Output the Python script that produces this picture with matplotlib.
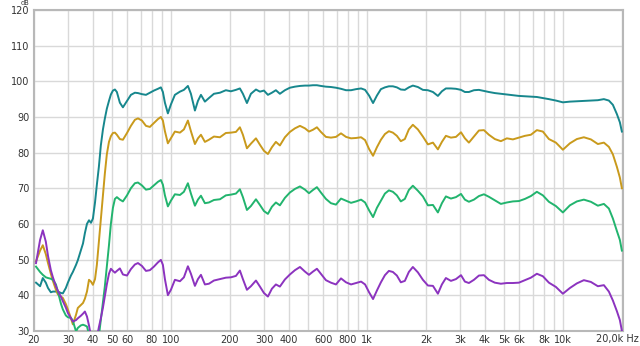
import numpy as np
import matplotlib
matplotlib.use("Agg")
from matplotlib import pyplot as plt

# frequency grid (Hz), shared by all four curves
freq = [20.5, 21.5, 22.2, 23.0, 23.6, 24.4, 25.0, 25.9, 26.5, 27.5,
        28.1, 29.1, 29.8, 30.9, 31.6, 32.8, 33.5, 34.7, 35.6, 36.4,
        37.3, 38.2, 39.1, 40.0, 41.0, 41.9, 42.9, 43.9, 45.0, 46.0,
        47.1, 48.3, 49.4, 50.6, 51.8, 53.0, 54.9, 56.9, 59.7, 62.5,
        65.5, 67.9, 71.1, 74.6, 78.1, 81.9, 85.9, 88.9, 91.0, 93.2,
        96.5, 100.0, 104.8, 111.2, 116.5, 122.1, 126.5, 132.6, 137.4, 142.3,
        149.1, 156.3, 165.8, 177.9, 190.7, 202.4, 214.7, 224.9, 233.0, 244.3,
        256.0, 271.6, 284.6, 298.3, 312.6, 327.6, 343.3, 359.8, 381.7, 404.8,
        429.4, 455.5, 483.2, 506.3, 530.5, 555.9, 582.5, 617.9, 655.4, 695.3,
        737.6, 782.5, 830.0, 880.6, 934.1, 978.9, 1026, 1075, 1125, 1179,
        1236, 1295, 1357, 1422, 1490, 1562, 1637, 1716, 1820, 1931,
        2048, 2173, 2303, 2414, 2530, 2684, 2847, 3021, 3163, 3315,
        3517, 3730, 3955, 4193, 4495, 4826, 5178, 5559, 5966, 6402,
        6866, 7367, 7904, 8485, 9213, 10001, 10859, 11788, 12796, 13898,
        15084, 16188, 17168, 17995, 18862, 19534, 20000]

teal = [43.5, 42.5, 44.8, 43.5, 42.0, 40.8, 41.0, 41.0, 41.0, 40.6,
        40.5, 42.0, 43.5, 45.5, 46.5, 48.5, 49.8, 52.5, 54.5, 57.4,
        60.0, 61.0, 60.3, 61.5, 66.0, 71.0, 76.0, 82.0, 86.5, 89.5,
        92.3, 94.5, 96.3, 97.4, 97.7, 97.0, 94.0, 92.7, 94.5, 96.2,
        96.8, 96.7, 96.4, 96.2, 96.8, 97.4, 97.9, 98.3, 97.0, 94.0,
        91.0, 93.5, 96.2, 97.1, 97.6, 98.7, 96.5, 91.8, 94.5, 96.2,
        94.3, 95.3, 96.5, 96.8, 97.5, 97.2, 97.6, 98.0, 96.5, 93.9,
        96.5, 97.7, 97.1, 97.4, 96.2, 96.8, 97.5, 96.5, 97.5, 98.2,
        98.5, 98.7, 98.8, 98.8, 98.9, 98.9, 98.7, 98.5, 98.4, 98.2,
        97.9, 97.5, 97.5, 97.8, 98.0, 97.6, 96.0, 93.9, 96.0, 97.8,
        98.3, 98.6, 98.6, 98.3, 97.7, 97.6, 98.3, 98.8, 98.4, 97.6,
        97.5, 97.0, 95.9, 97.2, 98.0, 98.0, 97.9, 97.6, 97.0, 97.0,
        97.5, 97.6, 97.3, 97.0, 96.7, 96.5, 96.3, 96.1, 95.9, 95.8,
        95.7, 95.6, 95.3, 95.0, 94.6, 94.1, 94.3, 94.4, 94.5, 94.6,
        94.7, 95.0, 94.6, 93.4, 90.8, 88.5, 85.9]

gold = [49.5, 52.5, 54.0, 51.5, 49.0, 46.0, 44.0, 41.5, 40.2, 39.6,
        39.2, 37.5, 36.0, 33.5, 31.8, 34.5, 36.4, 37.2, 37.8, 39.0,
        41.0, 44.3, 43.8, 42.9, 44.5, 48.5, 55.0, 61.5, 68.0, 74.0,
        79.5, 83.0, 84.6, 85.5, 85.6, 85.0, 83.8, 83.6, 85.5, 87.5,
        89.2, 89.6, 89.0, 87.5, 87.2, 88.3, 89.4, 90.0, 89.0, 86.0,
        82.6, 84.0, 85.9, 85.6, 86.5, 89.0, 86.0, 82.4, 84.0, 85.0,
        83.0, 83.6, 84.5, 84.3, 85.5, 85.6, 85.8, 87.1, 85.0, 81.2,
        82.5, 84.0, 82.2, 80.5, 79.6, 81.5, 83.0, 82.0, 84.3, 85.8,
        86.8, 87.5, 86.8, 85.9, 86.4, 87.1, 85.8, 84.4, 84.2, 84.4,
        85.4, 84.4, 84.0, 84.1, 84.3, 83.5, 81.0, 79.1, 81.5, 83.6,
        85.2, 86.0, 85.6, 84.7, 83.2, 83.8, 86.5, 87.8, 86.5, 84.5,
        82.3, 82.8, 80.9, 83.0, 84.7, 84.2, 84.4, 85.7, 84.0, 82.8,
        84.5, 86.2, 86.3, 85.0, 83.8, 83.2, 84.0, 83.7, 84.2, 84.7,
        85.0, 86.3, 85.9, 83.8, 82.8, 80.8, 82.6, 83.8, 84.3, 83.7,
        82.4, 82.8, 81.6, 79.5, 76.0, 73.0, 70.0]

green = [48.0, 46.5, 45.7, 45.0, 44.8, 44.6, 44.3, 43.0, 41.0, 37.5,
         36.0, 34.3, 33.8, 33.6, 32.8, 29.8, 30.8, 31.5, 31.7, 31.5,
         31.2, 29.0, 27.0, 26.0, 25.5, 26.0, 28.5, 33.0, 38.0, 42.4,
         48.0, 54.0, 60.0, 64.5, 67.0, 67.5, 66.8, 66.3, 68.0, 70.0,
         71.4, 71.6, 70.8, 69.6, 69.8, 70.8, 71.8, 72.3, 71.0, 68.0,
         64.9, 66.5, 68.3, 68.1, 69.0, 71.4, 68.5, 65.1, 66.8, 67.9,
         65.8, 66.0, 66.7, 66.9, 68.0, 68.2, 68.5, 69.7, 67.5, 63.9,
         65.0, 66.9, 65.3, 63.6, 62.8, 64.8, 66.0, 65.2, 67.3, 68.8,
         69.8, 70.5, 69.6, 68.6, 69.5, 70.3, 68.8, 67.0, 65.8, 65.4,
         67.1, 66.5, 65.9, 66.3, 66.8, 66.0, 63.8, 61.9, 64.5, 66.5,
         68.5, 69.4, 69.0, 68.0, 66.3, 67.0, 69.5, 70.7, 69.3, 67.7,
         65.2, 65.3, 63.2, 65.8, 67.7, 67.1, 67.5, 68.4, 66.8, 66.2,
         66.8, 67.8, 68.3, 67.6, 66.6, 65.6, 66.0, 66.3, 66.4, 67.0,
         67.8, 69.0, 68.0, 66.2, 65.0, 63.2, 65.2, 66.3, 66.8, 66.2,
         65.1, 65.6, 64.3, 61.5, 58.0, 55.5, 52.5]

purple = [49.0, 55.5, 58.2, 55.0, 51.0, 47.0, 45.0, 42.5, 41.2, 39.5,
          38.3, 36.5, 35.0, 33.5, 32.6, 33.0, 33.5, 34.2, 34.8, 35.4,
          34.0, 31.5, 28.5, 26.5, 26.0, 28.0, 31.0, 33.5, 36.5, 39.6,
          43.0, 46.0, 47.4, 46.8, 46.3, 46.8, 47.5, 45.8, 45.5, 47.3,
          48.6, 49.0, 48.2, 46.8, 47.0, 48.0, 49.2, 49.9, 48.5, 44.5,
          40.0, 41.5, 44.3, 43.9, 45.0, 48.1, 46.0, 42.6, 44.5, 45.7,
          43.0, 43.2, 44.1, 44.5, 44.9, 45.0, 45.4, 46.9, 44.5, 41.5,
          42.5, 44.1, 42.4, 40.6, 39.6, 41.8, 43.0, 42.4, 44.4, 45.8,
          47.0, 47.9, 46.6, 45.7, 46.6, 47.4, 46.0, 44.2, 43.5, 43.0,
          44.7, 43.6, 43.0, 43.4, 43.8, 43.0, 40.8, 38.9, 41.3, 43.6,
          45.6, 46.8, 46.5, 45.5, 43.6, 44.0, 46.5, 47.9, 46.4, 44.3,
          42.7, 42.6, 40.4, 43.0, 44.8, 44.0, 44.5, 45.6, 43.8, 43.4,
          44.3, 45.5, 45.6, 44.3, 43.5, 43.2, 43.4, 43.4, 43.5, 44.2,
          44.9, 46.0, 45.3, 43.5, 42.3, 40.4, 42.0, 43.3, 44.2, 43.7,
          42.5, 42.8, 41.0, 38.5, 35.5, 33.0, 30.0]

grid_freqs = [20, 30, 40, 50, 60, 70, 80, 90, 100,
              200, 300, 400, 500, 600, 700, 800, 900, 1000,
              2000, 3000, 4000, 5000, 6000, 7000, 8000, 9000, 10000, 20000]
grid_labels = ["20", "30", "40", "50", "60", "", "80", "", "100",
               "200", "300", "400", "", "600", "", "800", "", "1k",
               "2k", "3k", "4k", "5k", "6k", "", "8k", "", "10k", ""]
db_ticks = [30, 40, 50, 60, 70, 80, 90, 100, 110, 120]

fig = plt.figure(figsize=(6.4, 3.46), dpi=100)
ax = fig.add_axes([0.053, 0.044, 0.920, 0.927])

ax.plot(freq, teal, color="#17878d", lw=1.4, zorder=3)
ax.plot(freq, gold, color="#c99a1c", lw=1.4, zorder=3)
ax.plot(freq, green, color="#22b46e", lw=1.4, zorder=3)
ax.plot(freq, purple, color="#8c33bf", lw=1.4, zorder=3)

ax.set_xscale("log")
ax.set_xlim(20, 20200)
ax.set_ylim(30, 120)
ax.minorticks_off()
ax.set_xticks(grid_freqs)
ax.set_xticklabels(grid_labels)
ax.set_yticks(db_ticks)
ax.grid(True, color="#d9d9d9", lw=1.0, zorder=0)
ax.tick_params(length=0, labelsize=7, colors="#333333", pad=3)
for s in ax.spines.values():
    s.set_color("#b8b8b8")
    s.set_linewidth(1.5)

# axis unit labels
fig.text(0.033, 1.0, "dB", fontsize=4.8, color="#333333", ha="left", va="top")
fig.text(0.998, 0.0205, "20,0k Hz", fontsize=7, color="#333333",
         ha="right", va="center")

fig.savefig("out.png", dpi=100)
